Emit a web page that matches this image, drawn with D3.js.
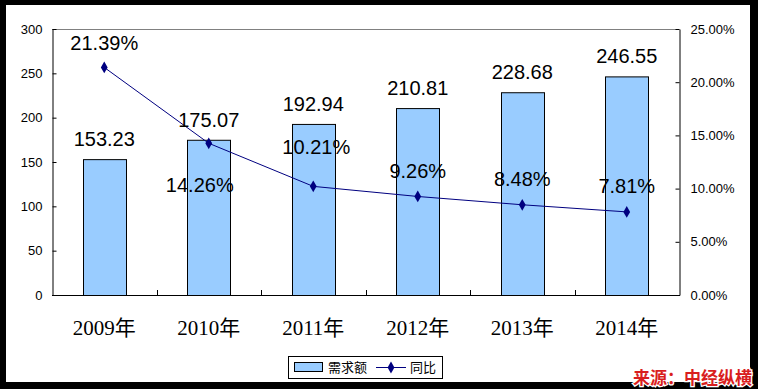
<!DOCTYPE html>
<html>
<head>
<meta charset="utf-8">
<script src="https://cdn.jsdelivr.net/npm/d3@7"></script>
<style>
  body { margin: 0; background: #000; }
  svg { display: block; }
  .tick text { font-family: "Liberation Sans", Arial, sans-serif; font-size: 13px; fill: #000; }
  .lbl { font-family: "Liberation Sans", Arial, sans-serif; font-size: 20px; fill: #000; }
</style>
</head>
<body>
<svg width="758" height="389"></svg>
<script>
// data
const years = ['2009年', '2010年', '2011年', '2012年', '2013年', '2014年'];
const demand = [153.23, 175.07, 192.94, 210.81, 228.68, 246.55];
const growth = [0.2139, 0.1426, 0.1021, 0.0926, 0.0848, 0.0781];
const leftTicks = [0, 50, 100, 150, 200, 250, 300];
const rightTicks = [0, 0.05, 0.10, 0.15, 0.20, 0.25];

// label nudges for the percentage labels (px), as placed in the original
const pctDy = [-24, 42, -39, -25, -26, -26];
const pctDx = [0, -9, 3, 0, 0, 0];

const svg = d3.select('svg');
const W = +svg.attr('width'), H = +svg.attr('height');

// white chart area inside the thick black frame
svg.append('rect').attr('x', 6).attr('y', 5).attr('width', 744).attr('height', 377).attr('fill', '#fff');

const margin = {top: 29, left: 52, right: 679, bottom: 295};

const x = d3.scaleBand().domain(years).range([margin.left, margin.right]).padding(0);
const barW = x.bandwidth() * 0.41;
const cx = d => x(d) + x.bandwidth() / 2;

const yL = d3.scaleLinear().domain([0, 300]).range([margin.bottom, margin.top]);
const yR = d3.scaleLinear().domain([0, 0.25]).range([margin.bottom, margin.top]);

// plot border top (grey)
svg.append('line')
  .attr('x1', margin.left).attr('x2', margin.right)
  .attr('y1', margin.top + 0.5).attr('y2', margin.top + 0.5)
  .attr('stroke', '#808080');

// bars
svg.append('g').selectAll('rect')
  .data(years)
  .join('rect')
  .attr('x', d => Math.round(cx(d) - barW / 2) + 0.5)
  .attr('y', (d, i) => yL(demand[i]) + 0.5)
  .attr('width', Math.round(barW))
  .attr('height', (d, i) => yL(0) - yL(demand[i]))
  .attr('fill', '#99ccff')
  .attr('stroke', '#000')
  .attr('stroke-width', 1);

// left axis
const gl = svg.append('g')
  .attr('transform', `translate(${margin.left + 0.5},0)`)
  .call(d3.axisLeft(yL).tickValues(leftTicks).tickSize(-4).tickSizeOuter(0).tickPadding(10));
gl.selectAll('path, line').attr('stroke', '#000');

// right axis
const gr = svg.append('g')
  .attr('transform', `translate(${margin.right + 0.5},0)`)
  .call(d3.axisRight(yR).tickValues(rightTicks).tickFormat(d3.format('.2%')).tickSize(-4).tickSizeOuter(0).tickPadding(11));
gr.selectAll('path, line').attr('stroke', '#000');

// bottom axis: baseline, inward ticks between categories, serif labels
svg.append('line')
  .attr('x1', margin.left).attr('x2', margin.right + 1)
  .attr('y1', margin.bottom + 0.5).attr('y2', margin.bottom + 0.5)
  .attr('stroke', '#000');
svg.append('g').selectAll('line')
  .data(years.slice(1))
  .join('line')
  .attr('x1', d => Math.round(x(d)) + 0.5).attr('x2', d => Math.round(x(d)) + 0.5)
  .attr('y1', margin.bottom).attr('y2', margin.bottom - 5)
  .attr('stroke', '#000');
svg.append('g').selectAll('text')
  .data(years)
  .join('text')
  .attr('x', cx)
  .attr('y', 335)
  .attr('text-anchor', 'middle')
  .attr('font-family', '"Liberation Serif", "Times New Roman", "Noto Sans CJK SC", serif')
  .attr('font-size', 21)
  .text(d => d);

// growth line
const line = d3.line()
  .x((d, i) => cx(years[i]))
  .y(d => yR(d));
svg.append('path')
  .datum(growth)
  .attr('d', line)
  .attr('fill', 'none')
  .attr('stroke', '#000080')
  .attr('stroke-width', 1);

const diamond = d3.symbol().type(d3.symbolDiamond).size(40);
svg.append('g').selectAll('path')
  .data(growth)
  .join('path')
  .attr('transform', (d, i) => `translate(${cx(years[i])},${yR(d)})`)
  .attr('d', diamond)
  .attr('fill', '#000080');

// bar value labels
svg.append('g').selectAll('text')
  .data(demand)
  .join('text')
  .attr('class', 'lbl')
  .attr('x', (d, i) => cx(years[i]))
  .attr('y', d => yL(d) - 20)
  .attr('dy', '0.35em')
  .attr('text-anchor', 'middle')
  .text(d => d.toFixed(2));

// percentage labels
svg.append('g').selectAll('text')
  .data(growth)
  .join('text')
  .attr('class', 'lbl')
  .attr('x', (d, i) => cx(years[i]) + pctDx[i])
  .attr('y', (d, i) => yR(d) + pctDy[i])
  .attr('dy', '0.35em')
  .attr('text-anchor', 'middle')
  .text(d => d3.format('.2%')(d));

// legend
const lg = svg.append('g');
lg.append('rect').attr('x', 288.5).attr('y', 356.5).attr('width', 154).attr('height', 22)
  .attr('fill', '#fff').attr('stroke', '#000');
lg.append('rect').attr('x', 294.5).attr('y', 362.5).attr('width', 28).attr('height', 9)
  .attr('fill', '#99ccff').attr('stroke', '#000');
lg.append('text').attr('x', 328).attr('y', 367.5).attr('dy', '0.35em')
  .attr('font-family', '"Noto Sans CJK SC", sans-serif').attr('font-size', 13)
  .text('需求额');
lg.append('line').attr('x1', 376).attr('x2', 406).attr('y1', 367.5).attr('y2', 367.5)
  .attr('stroke', '#000080');
lg.append('path').attr('transform', 'translate(391,367.5)').attr('d', diamond).attr('fill', '#000080');
lg.append('text').attr('x', 410).attr('y', 367.5).attr('dy', '0.35em')
  .attr('font-family', '"Noto Sans CJK SC", sans-serif').attr('font-size', 13)
  .text('同比');

// source note
svg.append('text')
  .attr('x', 752).attr('y', 384)
  .attr('text-anchor', 'end')
  .attr('font-family', '"Noto Sans CJK SC", sans-serif')
  .attr('font-size', 17).attr('font-weight', 'bold')
  .attr('fill', '#d91e1e')
  .attr('stroke', '#fff').attr('stroke-width', 2.5)
  .attr('paint-order', 'stroke')
  .text('来源：中经纵横');
</script>
</body>
</html>
